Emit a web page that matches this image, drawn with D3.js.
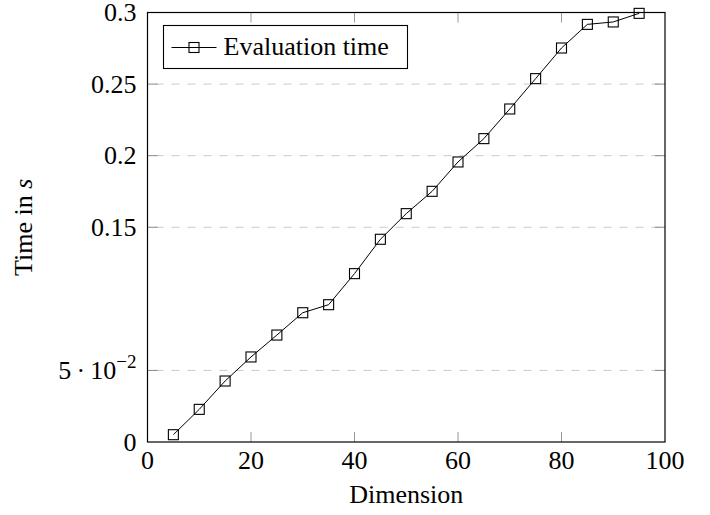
<!DOCTYPE html>
<html>
<head>
<meta charset="utf-8">
<script src="https://cdn.jsdelivr.net/npm/d3@7"></script>
<style>
  body { margin: 0; background: #fff; }
</style>
</head>
<body>
<svg id="chart" width="710" height="515"></svg>
<script>
// data
const dimensions = [5, 10, 15, 20, 25, 30, 35, 40, 45, 50, 55, 60, 65, 70, 75, 80, 85, 90, 95];
const evalTime = [0.0051, 0.0228, 0.0426, 0.0594, 0.0747, 0.0903, 0.0959, 0.1176, 0.1416,
  0.1595, 0.1751, 0.1956, 0.2119, 0.2326, 0.2538, 0.2752, 0.2917, 0.2934, 0.2994];
const xTicks = [0, 20, 40, 60, 80, 100];
const yTicks = [0, 0.05, 0.15, 0.2, 0.25, 0.3];
const seriesName = "Evaluation time";

const FONT = "'Times New Roman', 'Liberation Serif', Times, 'DejaVu Serif', serif";
const FS = 26;

const margin = { top: 12.5, right: 45, bottom: 73, left: 147.5 };
const width = 710 - margin.left - margin.right;
const height = 515 - margin.top - margin.bottom;
const tickLen = 10;

const svg = d3.select("#chart").attr("font-family", FONT);
const g = svg.append("g")
  .attr("transform", `translate(${margin.left},${margin.top})`);

const x = d3.scaleLinear().domain([0, 100]).range([0, width]);
const y = d3.scaleLinear().domain([0, 0.3]).range([height, 0]);

// horizontal dashed grid
g.selectAll(".grid")
  .data(yTicks.filter((d) => d > 0 && d < 0.3))
  .enter()
  .append("line")
  .attr("x1", 0)
  .attr("x2", width)
  .attr("y1", (d) => y(d))
  .attr("y2", (d) => y(d))
  .attr("stroke", "#c8c8c8")
  .attr("stroke-width", 1)
  .attr("stroke-dasharray", "8,8")
  .attr("stroke-dashoffset", -8);

// inner tick marks
const inner = xTicks.filter((d) => d > 0 && d < 100);
g.selectAll(".xtb")
  .data(inner)
  .enter()
  .append("line")
  .attr("x1", (d) => x(d)).attr("x2", (d) => x(d))
  .attr("y1", height).attr("y2", height - tickLen)
  .attr("stroke", "#999");
g.selectAll(".xtt")
  .data(inner)
  .enter()
  .append("line")
  .attr("x1", (d) => x(d)).attr("x2", (d) => x(d))
  .attr("y1", 0).attr("y2", tickLen)
  .attr("stroke", "#999");
const innerY = yTicks.filter((d) => d > 0 && d < 0.3);
g.selectAll(".ytl")
  .data(innerY)
  .enter()
  .append("line")
  .attr("x1", 0).attr("x2", tickLen)
  .attr("y1", (d) => y(d)).attr("y2", (d) => y(d))
  .attr("stroke", "#888");
g.selectAll(".ytr")
  .data(innerY)
  .enter()
  .append("line")
  .attr("x1", width - tickLen).attr("x2", width)
  .attr("y1", (d) => y(d)).attr("y2", (d) => y(d))
  .attr("stroke", "#888");

// frame
g.append("rect")
  .attr("width", width)
  .attr("height", height)
  .attr("fill", "none")
  .attr("stroke", "#000")
  .attr("stroke-width", 1.2);

// x tick labels
g.selectAll(".xl")
  .data(xTicks)
  .enter()
  .append("text")
  .attr("x", (d) => x(d))
  .attr("y", height + 27)
  .attr("text-anchor", "middle")
  .attr("font-size", FS)
  .text((d) => d);

// y tick labels
const yl = g.selectAll(".yl")
  .data(yTicks)
  .enter()
  .append("text")
  .attr("x", -11)
  .attr("y", (d) => y(d) + 8.5)
  .attr("text-anchor", "end")
  .attr("font-size", FS);
yl.each(function (d) {
  const t = d3.select(this);
  if (d === 0.05) {
    t.append("tspan").text("5\u2009\u00b7\u200910");
    t.append("tspan").attr("dy", -11).attr("font-size", 19).text("\u22122");
  } else {
    t.text(d);
  }
});

// axis titles
g.append("text")
  .attr("x", width / 2)
  .attr("y", height + 61)
  .attr("text-anchor", "middle")
  .attr("font-size", FS)
  .text("Dimension");

const yt = g.append("text")
  .attr("transform", `translate(${-116},${height / 2}) rotate(-90)`)
  .attr("text-anchor", "middle")
  .attr("font-size", FS);
yt.append("tspan").text("Time in ");
yt.append("tspan").attr("font-style", "italic").text("s");

// series
const pts = dimensions.map((d, i) => [d, evalTime[i]]);
const line = d3.line().x((d) => x(d[0])).y((d) => y(d[1]));

g.append("path")
  .datum(pts)
  .attr("fill", "none")
  .attr("stroke", "#000")
  .attr("stroke-width", 1)
  .attr("d", line);

const ms = 10;
g.selectAll(".mark")
  .data(pts)
  .enter()
  .append("rect")
  .attr("x", (d) => x(d[0]) - ms / 2)
  .attr("y", (d) => y(d[1]) - ms / 2)
  .attr("width", ms)
  .attr("height", ms)
  .attr("fill", "none")
  .attr("stroke", "#000")
  .attr("stroke-width", 1.1);

// legend
const lg = svg.append("g").attr("transform", "translate(163.5,25.5)");
lg.append("rect")
  .attr("width", 244)
  .attr("height", 43)
  .attr("fill", "#fff")
  .attr("stroke", "#000")
  .attr("stroke-width", 1.1);
lg.append("line")
  .attr("x1", 8).attr("x2", 53)
  .attr("y1", 22).attr("y2", 22)
  .attr("stroke", "#000");
lg.append("rect")
  .attr("x", 30.5 - ms / 2).attr("y", 22 - ms / 2)
  .attr("width", ms).attr("height", ms)
  .attr("fill", "none")
  .attr("stroke", "#000")
  .attr("stroke-width", 1.1);
lg.append("text")
  .attr("x", 60)
  .attr("y", 29)
  .attr("font-size", FS)
  .text(seriesName);
</script>
</body>
</html>
